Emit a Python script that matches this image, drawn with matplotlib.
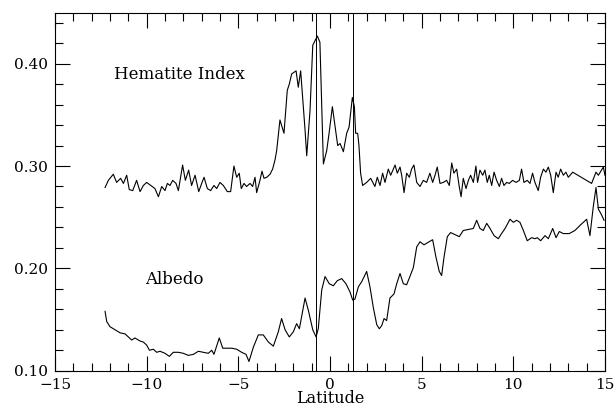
import matplotlib
matplotlib.use("Agg")
import matplotlib.pyplot as plt
from matplotlib.ticker import MultipleLocator

# Hematite index (latitude, value)
hem_lat = [-12.27, -12.09, -11.82, -11.64, -11.42, -11.27, -11.09, -10.95, -10.76, -10.55,
           -10.36, -10.18, -10.0, -9.78, -9.55, -9.36, -9.18, -9.0, -8.87, -8.73,
           -8.58, -8.4, -8.27, -8.04, -7.89, -7.71, -7.55, -7.36, -7.16, -6.98,
           -6.87, -6.69, -6.51, -6.33, -6.18, -6.0, -5.82, -5.6, -5.42, -5.24,
           -5.09, -4.95, -4.84, -4.69, -4.55, -4.36, -4.22, -4.09, -4.0, -3.82,
           -3.71, -3.6, -3.45, -3.27, -3.13, -3.0, -2.91, -2.73, -2.51, -2.33,
           -2.22, -2.09, -1.85, -1.73, -1.60, -1.36, -1.27, -1.09, -0.94, -0.69,
           -0.55, -0.36, -0.18, -0.05, 0.13, 0.42, 0.55, 0.73, 0.91, 1.04,
           1.22, 1.33, 1.40, 1.51, 1.58, 1.67, 1.78, 2.0, 2.22, 2.45,
           2.58, 2.73, 2.87, 3.0, 3.18, 3.31, 3.55, 3.67, 3.82, 3.91,
           4.04, 4.18, 4.33, 4.45, 4.58, 4.73, 4.91, 5.09, 5.27, 5.45,
           5.6, 5.73, 5.85, 6.0, 6.18, 6.36, 6.51, 6.64, 6.76, 6.91,
           7.05, 7.15, 7.27, 7.42, 7.55, 7.67, 7.82, 7.96, 8.05, 8.18,
           8.33, 8.45, 8.58, 8.69, 8.82, 8.95, 9.09, 9.24, 9.36, 9.49,
           9.64, 9.78, 9.96, 10.15, 10.33, 10.45, 10.58, 10.76, 10.91, 11.05,
           11.18, 11.36, 11.49, 11.64, 11.78, 11.91, 12.04, 12.18, 12.33, 12.45,
           12.58, 12.73, 12.87, 13.0, 13.24, 14.27, 14.51, 14.64, 14.91, 15.0]
hem_val = [0.279, 0.286, 0.292, 0.284, 0.288, 0.283, 0.291, 0.277, 0.276, 0.286,
           0.275, 0.281, 0.284, 0.281, 0.278, 0.270, 0.280, 0.276, 0.283, 0.281,
           0.286, 0.283, 0.276, 0.301, 0.286, 0.296, 0.281, 0.291, 0.275, 0.284,
           0.289, 0.278, 0.276, 0.281, 0.278, 0.284, 0.281, 0.275, 0.275, 0.300,
           0.289, 0.293, 0.278, 0.283, 0.280, 0.283, 0.280, 0.289, 0.274, 0.286,
           0.295, 0.288, 0.289, 0.292, 0.297, 0.306, 0.315, 0.345, 0.332, 0.374,
           0.380, 0.390, 0.393, 0.377, 0.393, 0.335, 0.310, 0.354, 0.418, 0.427,
           0.421, 0.302, 0.315, 0.332, 0.358, 0.320, 0.322, 0.314, 0.332, 0.338,
           0.367, 0.358, 0.332, 0.332, 0.320, 0.293, 0.281, 0.284, 0.288, 0.280,
           0.289, 0.281, 0.293, 0.284, 0.297, 0.291, 0.301, 0.293, 0.299, 0.291,
           0.274, 0.293, 0.289, 0.297, 0.301, 0.284, 0.280, 0.286, 0.284, 0.293,
           0.284, 0.291, 0.299, 0.283, 0.284, 0.286, 0.281, 0.303, 0.293, 0.297,
           0.280, 0.270, 0.288, 0.278, 0.286, 0.291, 0.284, 0.300, 0.284, 0.296,
           0.291, 0.296, 0.284, 0.291, 0.281, 0.294, 0.286, 0.280, 0.288, 0.281,
           0.284, 0.283, 0.286, 0.284, 0.286, 0.297, 0.284, 0.286, 0.283, 0.293,
           0.284, 0.276, 0.289, 0.297, 0.294, 0.299, 0.291, 0.274, 0.294, 0.289,
           0.297, 0.291, 0.294, 0.289, 0.294, 0.283, 0.294, 0.291, 0.299, 0.291]

# Albedo (latitude, value)
alb_lat = [-12.27, -12.18, -12.0, -11.73, -11.45, -11.18, -11.0, -10.82, -10.64, -10.36,
           -10.18, -10.0, -9.85, -9.64, -9.45, -9.27, -9.0, -8.76, -8.55, -8.27,
           -8.0, -7.73, -7.45, -7.18, -6.91, -6.64, -6.45, -6.33, -6.04, -5.85,
           -5.64, -5.36, -5.09, -4.82, -4.58, -4.42, -4.18, -3.91, -3.64, -3.36,
           -3.09, -2.82, -2.64, -2.45, -2.22, -2.0, -1.82, -1.67, -1.36, -1.18,
           -0.94, -0.76, -0.64, -0.45, -0.27, -0.04, 0.18, 0.4, 0.64, 0.87,
           1.09, 1.24, 1.36, 1.55, 1.73, 2.0, 2.18, 2.36, 2.55, 2.69,
           2.82, 2.95, 3.09, 3.27, 3.49, 3.64, 3.82, 4.0, 4.18, 4.36,
           4.55, 4.73, 4.91, 5.13, 5.31, 5.6, 5.78, 5.96, 6.09, 6.22,
           6.4, 6.58, 6.82, 7.05, 7.27, 7.55, 7.82, 8.0, 8.18, 8.36,
           8.55, 8.73, 8.95, 9.18, 9.36, 9.55, 9.82, 10.0, 10.18, 10.36,
           10.55, 10.76, 11.0, 11.18, 11.31, 11.49, 11.73, 11.91, 12.15, 12.33,
           12.51, 12.73, 13.05, 13.36, 13.64, 14.0, 14.18, 14.36, 14.51, 14.64,
           14.82, 14.95]
alb_val = [0.158, 0.148, 0.143, 0.140, 0.137, 0.136, 0.133, 0.130, 0.132, 0.129,
           0.128, 0.125, 0.120, 0.121, 0.118, 0.119, 0.117, 0.114, 0.118, 0.118,
           0.117, 0.115, 0.116, 0.119, 0.118, 0.117, 0.120, 0.116, 0.132, 0.122,
           0.122, 0.122, 0.121, 0.118, 0.116, 0.109, 0.123, 0.135, 0.135, 0.128,
           0.124, 0.138, 0.151, 0.140, 0.133, 0.138, 0.146, 0.141, 0.171, 0.159,
           0.140, 0.133, 0.141, 0.179, 0.192, 0.185, 0.183, 0.188, 0.190, 0.185,
           0.177, 0.169, 0.170, 0.182, 0.187, 0.197, 0.182, 0.162, 0.145, 0.141,
           0.144, 0.151, 0.149, 0.171, 0.175, 0.185, 0.195, 0.185, 0.184, 0.192,
           0.201, 0.221, 0.226, 0.223, 0.225, 0.228, 0.211, 0.197, 0.193, 0.211,
           0.231, 0.235, 0.233, 0.231, 0.237, 0.238, 0.239, 0.247, 0.239, 0.237,
           0.244, 0.239, 0.232, 0.229, 0.234, 0.239, 0.248, 0.245, 0.247, 0.245,
           0.237, 0.227, 0.230, 0.229, 0.230, 0.227, 0.232, 0.229, 0.239, 0.230,
           0.236, 0.234, 0.234, 0.237, 0.242, 0.248, 0.232, 0.260, 0.279, 0.258,
           0.252, 0.247]

vlines_lat = [-0.76, 1.24]

plt.rcParams['font.family'] = ['DejaVu Serif']

fig = plt.figure(figsize=(6.14, 4.09), dpi=100)
ax = fig.add_axes([0.0896, 0.0936, 0.8957, 0.8758])

ax.plot(hem_lat, hem_val, color='black', lw=0.8)
ax.plot(alb_lat, alb_val, color='black', lw=0.8)
for v in vlines_lat:
    ax.axvline(v, color='black', lw=0.7)

ax.set_xlim(-15, 15)
ax.set_ylim(0.10, 0.45)
ax.xaxis.set_minor_locator(MultipleLocator(1))
ax.yaxis.set_minor_locator(MultipleLocator(0.02))
ax.set_xticks([-15, -10, -5, 0, 5, 10, 15])
ax.set_xticklabels(['\u221215', '\u221210', '\u22125', '0', '5', '10', '15'])
ax.set_yticks([0.10, 0.20, 0.30, 0.40])
ax.set_yticklabels(['0.10', '0.20', '0.30', '0.40'])
ax.tick_params(which='both', direction='in', top=True, right=True, labelsize=11, width=0.8)
ax.tick_params(which='major', length=11)
ax.tick_params(which='minor', length=5.5)
ax.tick_params(axis='x', pad=5)
ax.tick_params(axis='y', pad=5)
for s in ax.spines.values():
    s.set_linewidth(0.8)

ax.text(-8.2, 0.389, 'Hematite Index', ha='center', va='center', fontsize=12)
ax.text(-8.5, 0.189, 'Albedo', ha='center', va='center', fontsize=12)
ax.set_xlabel('Latitude', fontsize=11.5, labelpad=-1)

fig.savefig('out.png', dpi=100)
